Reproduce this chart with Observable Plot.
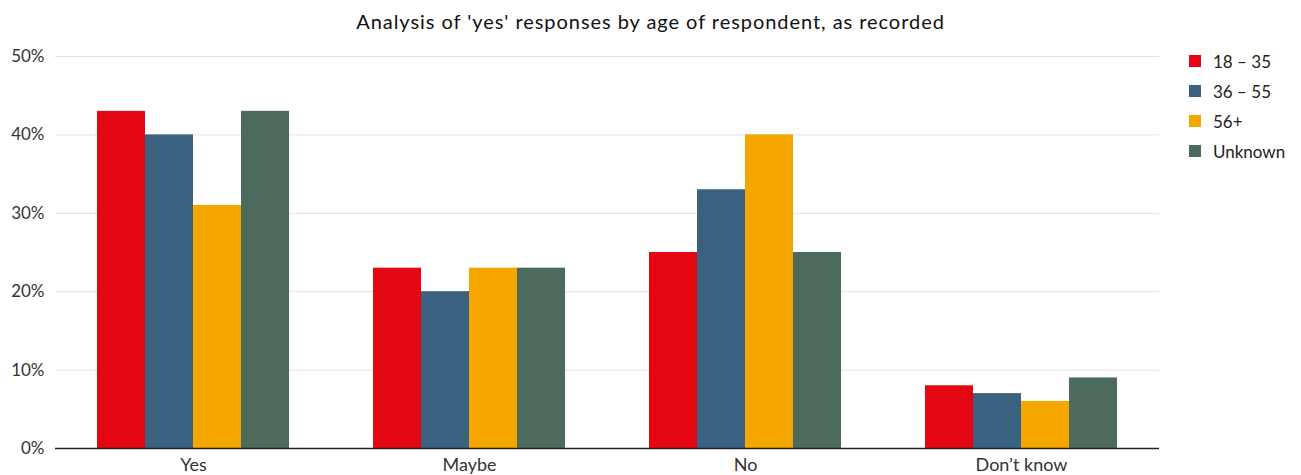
<!DOCTYPE html>
<html>
<head>
<meta charset="utf-8">
<script src="https://cdn.jsdelivr.net/npm/d3@7"></script>
<script src="https://cdn.jsdelivr.net/npm/@observablehq/plot@0.6"></script>
<style>
  html, body { margin: 0; padding: 0; background: #fff; }
  #wrap { position: relative; width: 1301px; height: 475px; font-family: Lato, "Open Sans", sans-serif; }
  #title { height: 40px; line-height: 42px; text-align: center; font-size: 20px; letter-spacing: 0.95px; color: #111; }
  #legend { position: absolute; left: 1189px; top: 46px; font-size: 17px; color: #222; }
  .item { display: flex; align-items: center; height: 30px; }
  .sw { width: 12px; height: 12px; margin-right: 12px; }
  g[aria-label^="fx-axis"] text { font-size: 18px; }
</style>
</head>
<body>
<div id="wrap">
  <div id="title">Analysis of 'yes' responses by age of respondent, as recorded</div>
  <div id="chart"></div>
  <div id="legend"></div>
</div>
<script>
const categories = ["Yes", "Maybe", "No", "Don’t know"];
const series = ["18 – 35", "36 – 55", "56+", "Unknown"];
const age18to35 = [43, 23, 25, 8];
const age36to55 = [40, 20, 33, 7];
const age56plus = [31, 23, 40, 6];
const unknown = [43, 23, 25, 9];
const colors = ["#E30613", "#3A6180", "#F5A700", "#4C6B5C"];
const yTicks = [0, 10, 20, 30, 40, 50];

const seriesValues = [age18to35, age36to55, age56plus, unknown];
const data = categories.flatMap((c, i) =>
  series.map((s, j) => ({category: c, series: s, value: seriesValues[j][i]}))
);

const chart = Plot.plot({
  width: 1301,
  height: 435,
  marginLeft: 53,
  marginRight: 141,
  marginTop: 16,
  marginBottom: 27,
  style: {fontFamily: "Lato, 'Open Sans', sans-serif", fontSize: "17px", color: "#333", background: "#fff"},
  fx: {domain: categories, padding: 0, label: null, axis: "bottom", tickSize: 0, tickPadding: 10},
  x: {domain: series, paddingInner: 0, paddingOuter: 0.847, axis: null},
  y: {domain: [0, 50], ticks: yTicks, tickFormat: d => d + "%", label: null, tickSize: 0, tickPadding: 11},
  color: {domain: series, range: colors},
  marks: [
    Plot.ruleY(yTicks, {stroke: "#e2e2e2", strokeWidth: 1}),
    Plot.barY(data, {fx: "category", x: "series", y: "value", fill: "series"}),
    Plot.ruleY([0], {stroke: "#222", strokeWidth: 1.5})
  ]
});
document.getElementById("chart").appendChild(chart);

const legend = document.getElementById("legend");
series.forEach((s, i) => {
  const item = document.createElement("div");
  item.className = "item";
  const sw = document.createElement("div");
  sw.className = "sw";
  sw.style.background = colors[i];
  const t = document.createElement("span");
  t.textContent = s;
  item.appendChild(sw);
  item.appendChild(t);
  legend.appendChild(item);
});
</script>
</body>
</html>
